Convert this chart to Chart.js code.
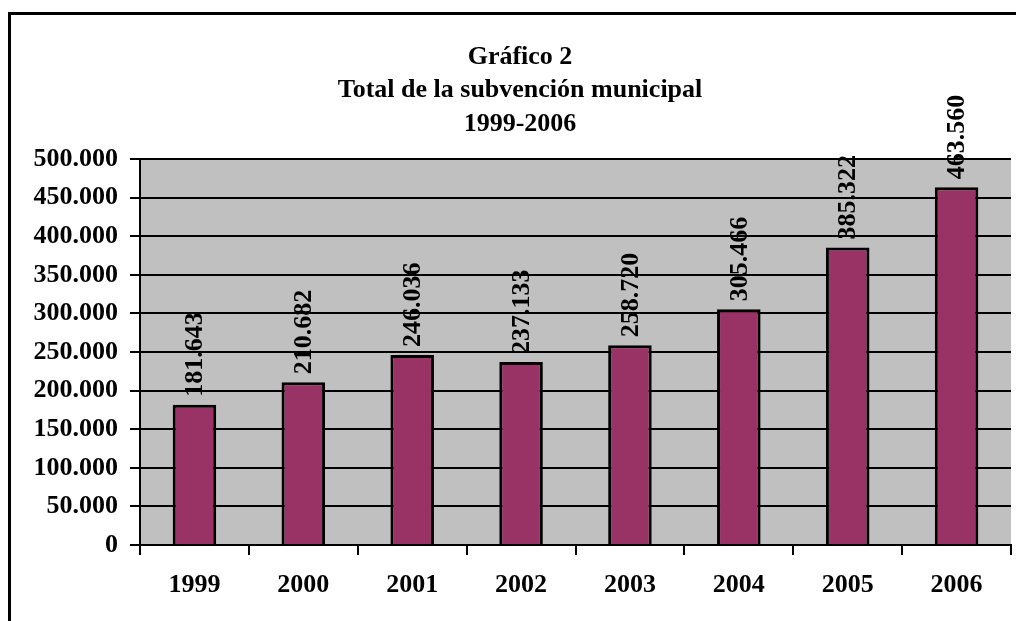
<!DOCTYPE html>
<html>
<head>
<meta charset="utf-8">
<script src="https://cdn.jsdelivr.net/npm/chart.js@4.4.1/dist/chart.umd.min.js"></script>
<style>
  html, body { margin: 0; padding: 0; background: #fff; }
  #myChart { display: block; }
</style>
</head>
<body>
<canvas id="myChart" width="1016" height="621"></canvas>
<script>
// Data
const years = ['1999', '2000', '2001', '2002', '2003', '2004', '2005', '2006'];
const subvencion = [181643, 210682, 246036, 237133, 258720, 305466, 385322, 463560];
const titleLines = ['Gráfico 2', 'Total de la subvención municipal', '1999-2006'];

const serif = "'Liberation Serif', 'Times New Roman', serif";

// thousands with a dot, like the original
function fmt(v) {
    return String(Math.round(v)).replace(/\B(?=(\d{3})+(?!\d))/g, '.');
}

// gray plot background + outer frame + title
const decor = {
    id: 'decor',
    beforeDraw(chart) {
        const ctx = chart.ctx;
        const a = chart.chartArea;
        ctx.save();
        ctx.fillStyle = '#ffffff';
        ctx.fillRect(0, 0, chart.width, chart.height);
        ctx.fillStyle = '#c0c0c0';
        ctx.fillRect(a.left, a.top, a.right - a.left, a.bottom - a.top);
        ctx.strokeStyle = '#000';
        ctx.lineWidth = 3;
        ctx.strokeRect(9.5, 13.5, 2000, 2000);
        ctx.fillStyle = '#000';
        ctx.font = 'bold 26px ' + serif;
        ctx.textAlign = 'center';
        ctx.textBaseline = 'alphabetic';
        const ys = [64, 97, 131];
        titleLines.forEach(function (t, i) {
            ctx.fillText(t, 520, ys[i]);
        });
        ctx.restore();
    }
};

// rotated value labels over the bars
const valueLabels = {
    id: 'valueLabels',
    afterDatasetsDraw(chart) {
        const ctx = chart.ctx;
        const meta = chart.getDatasetMeta(0);
        ctx.save();
        ctx.fillStyle = '#000';
        ctx.font = 'bold 26px ' + serif;
        ctx.textAlign = 'left';
        ctx.textBaseline = 'middle';
        meta.data.forEach(function (bar, i) {
            ctx.save();
            ctx.translate(bar.x + 1, bar.y - 8);
            ctx.rotate(-Math.PI / 2);
            ctx.fillText(fmt(subvencion[i]), 0, 0);
            ctx.restore();
        });
        ctx.restore();
    }
};

const chartArea = document.getElementById('myChart');

const chartContent = new Chart(chartArea, {
    type: 'bar',
    data: {
        labels: years,
        datasets: [{
            data: subvencion,
            backgroundColor: '#993366',
            borderColor: '#000',
            borderWidth: 3,
            barPercentage: 0.4,
            categoryPercentage: 1
        }]
    },
    options: {
        responsive: false,
        animation: false,
        layout: { padding: { left: 0, right: 5, top: 159, bottom: 0 } },
        plugins: {
            legend: { display: false },
            title: { display: false },
            tooltip: { enabled: false }
        },
        scales: {
            x: {
                afterFit: function (s) { s.height = 76; },
                grid: {
                    drawOnChartArea: false,
                    color: '#000',
                    lineWidth: 2,
                    tickLength: 10,
                    offset: true
                },
                border: { color: '#000', width: 2 },
                ticks: {
                    color: '#000',
                    padding: 15,
                    font: { family: serif, size: 26, weight: 'bold' }
                }
            },
            y: {
                min: 0,
                max: 500000,
                afterFit: function (s) { s.width = 140; },
                grid: {
                    color: '#000',
                    lineWidth: 2,
                    tickLength: 10
                },
                border: { color: '#000', width: 2 },
                ticks: {
                    stepSize: 50000,
                    color: '#000',
                    padding: 12,
                    font: { family: serif, size: 26, weight: 'bold' },
                    callback: function (v) { return fmt(v); }
                }
            }
        }
    },
    plugins: [decor, valueLabels]
});
</script>
</body>
</html>
